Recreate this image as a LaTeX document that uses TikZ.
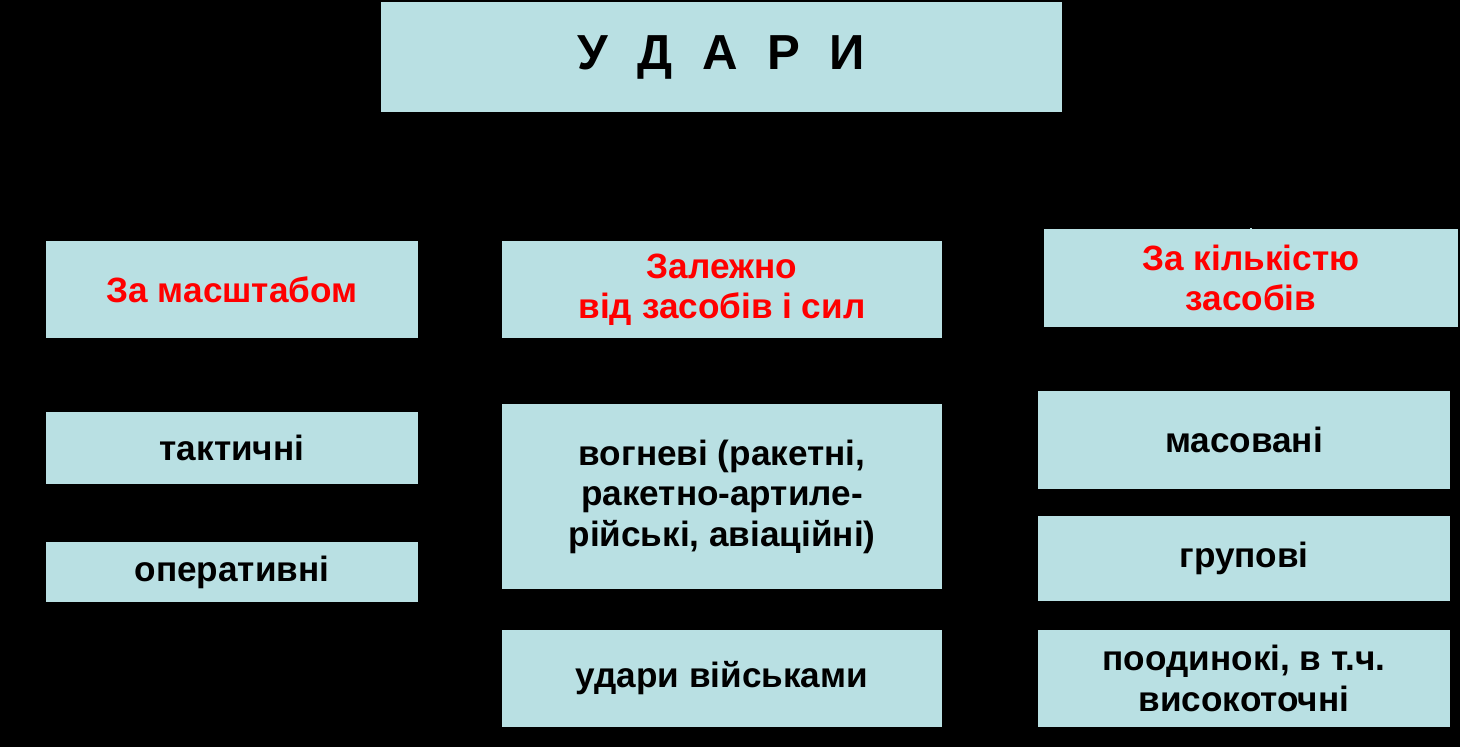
\documentclass[tikz,border=0pt]{standalone}
\usepackage{fontspec}
\setmainfont{Liberation Sans}
\definecolor{boxc}{HTML}{B9E0E3}
\definecolor{redt}{HTML}{FF0000}
\begin{document}
\begin{tikzpicture}[x=0.02cm,y=-0.02cm,
  box/.style={fill=boxc,draw=none,inner sep=0pt,align=center,font=\fontsize{20}{23}\selectfont\bfseries},
  head/.style={box,text=redt}]
\fill[black] (0,0) rectangle (1460,747);
\useasboundingbox (0,0) rectangle (1460,747);
\newcommand{\bx}[7]{\node[#1,minimum width=#4*0.02cm,minimum height=#5*0.02cm] (#2) at (#6,#7) {#3};}
\bx{box,font=\fontsize{28}{32}\selectfont\bfseries}{t}{У\hspace{0.6em}Д\hspace{0.6em}А\hspace{0.6em}Р\hspace{0.6em}И}{681}{110}{721.5}{57}
\bx{head}{h1}{За масштабом}{372}{97}{232}{289.5}
\bx{head}{h2}{Залежно\\від засобів і сил}{440}{97}{722}{289.5}
\bx{head}{h3}{За кількістю\\засобів}{414}{98}{1251}{278}
\bx{box}{a1}{тактичні}{372}{72}{232}{448}
\bx{box}{a2}{оперативні}{372}{60}{232}{572}
\bx{box}{b1}{вогневі (ракетні,\\ракетно-артиле-\\рійські, авіаційні)}{440}{185}{722}{496.5}
\bx{box}{b2}{удари військами}{440}{97}{722}{678.5}
\bx{box}{c1}{масовані}{412}{98}{1244}{440}
\bx{box}{c2}{групові}{412}{85}{1244}{558.5}
\bx{box}{c3}{поодинокі, в т.ч.\\високоточні}{412}{97}{1244}{678.5}
\coordinate (tk) at (1251,228);
\draw[boxc,line width=0.8pt] (tk) -- (h3.north -| tk);
\end{tikzpicture}
\end{document}
